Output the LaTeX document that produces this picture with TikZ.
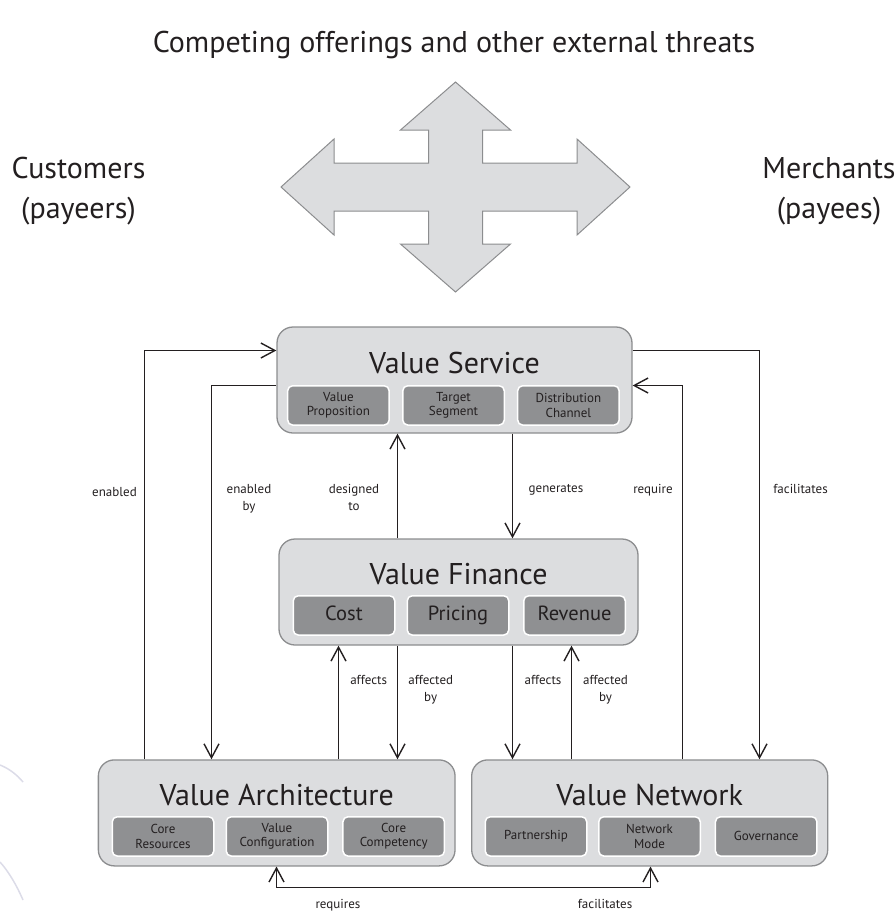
\documentclass[tikz,border=0pt]{standalone}
\usepackage{fontspec}
\setmainfont{PT Sans}
\usetikzlibrary{arrows.meta}
\definecolor{boxfill}{HTML}{DCDDDF}
\definecolor{boxline}{HTML}{8C8D8F}
\definecolor{subfill}{HTML}{8F9092}
\definecolor{ink}{HTML}{231F20}
\definecolor{faintc}{HTML}{DCDCE8}
\begin{document}
\begin{tikzpicture}[x=1pt,y=-1pt,
  bigbox/.style={draw=boxline, line width=1.3pt, fill=boxfill, rounded corners=16pt,
    minimum height=106pt, inner sep=0pt},
  boxtitle/.style={text=ink, font=\fontsize{30}{32}\selectfont, inner sep=0pt},
  subbox/.style={draw=white, line width=1.5pt, fill=subfill, rounded corners=5pt,
    minimum width=101.5pt, minimum height=39.3pt, inner sep=0pt, align=center,
    text=ink, font=\fontsize{13}{14.5}\selectfont},
  bigsub/.style={subbox, font=\fontsize{20.5}{22}\selectfont, text height=14.5pt, text depth=4.5pt},
  conn/.style={draw=ink, line width=1.6pt, -{Straight Barb[length=14pt,width=15pt,line width=1.4pt]}},
  conn2/.style={draw=ink, line width=1.6pt, {Straight Barb[length=14pt,width=15pt,line width=1.4pt]}-{Straight Barb[length=14pt,width=15pt,line width=1.4pt]}},
  lbl/.style={text=ink, font=\fontsize{13}{17}\selectfont, align=center, inner sep=0pt},
  toplbl/.style={text=ink, font=\fontsize{30}{40}\selectfont, align=center, inner sep=0pt},
  cross/.style={draw=boxline, line width=1pt, fill=boxfill, line join=miter},
  faint/.style={draw=faintc, line width=1.5pt}]
\useasboundingbox (0,0) rectangle (896,914);

% top texts
\node[toplbl] (threats) at (454,45) {Competing offerings and other external threats};
\node[toplbl] (cust) at (78.5,191) {Customers\\(payeers)};
\node[toplbl] (merch) at (829,191) {Merchants\\(payees)};

% four-way arrow
\draw[cross] (455.5,82) -- (510.5,130) -- (482.5,130) -- (482.5,163) -- (577,163) -- (577,139)
  -- (630,187) -- (577,235) -- (577,211) -- (482.5,211) -- (482.5,244) -- (510.5,244)
  -- (455.5,292) -- (400.5,244) -- (428.5,244) -- (428.5,211) -- (334,211) -- (334,235)
  -- (281,187) -- (334,139) -- (334,163) -- (428.5,163) -- (428.5,130) -- (400.5,130) -- cycle;

% faint arcs
\draw[faint] (0,765) .. controls (10,769) and (17,775) .. (23,782);
\draw[faint] (0,862) .. controls (9,872) and (17,886) .. (23,900);

% Value Service
\node[bigbox, minimum width=355pt] (vs) at (454.5,380) {};
\node[boxtitle] (vst) at (454.5,363) {Value Service};
\node[subbox] (vs1) at (338.4,405.4) {Value\\Proposition};
\node[subbox] (vs2) at (453.5,405.4) {Target\\Segment};
\node[subbox] (vs3) at (568.4,405.4) {Distribution\\Channel};

% Value Finance
\node[bigbox, minimum width=359pt] (vf) at (458.5,592) {};
\node[boxtitle] (vft) at (458.5,574) {Value Finance};
\node[bigsub] (vf1) at (344,615.4) {Cost};
\node[bigsub] (vf2) at (458,615.4) {Pricing};
\node[bigsub] (vf3) at (574.5,615.4) {Revenue};

% Value Architecture
\node[bigbox, minimum width=356.7pt] (va) at (276.7,812.9) {};
\node[boxtitle] (vat) at (276.7,795) {Value Architecture};
\node[subbox] (va1) at (163,836.4) {Core\\Resources};
\node[subbox] (va2) at (277,836.4) {Value\\Configuration};
\node[subbox] (va3) at (393.7,836.4) {Core\\Competency};

% Value Network
\node[bigbox, minimum width=356pt] (vn) at (649.7,812.9) {};
\node[boxtitle] (vnt) at (649.7,795) {Value Network};
\node[subbox] (vn1) at (536,836.4) {Partnership};
\node[subbox] (vn2) at (649.5,836.4) {Network\\Mode};
\node[subbox] (vn3) at (766.2,836.4) {Governance};

% connectors
\draw[conn] (va.north -| 144.5,0) |- (vs.west |- 0,350.5);
\draw[conn] (vs.west |- 0,385.5) -| (va.north -| 211.5,0);
\draw[conn] (vf.north -| 397.5,0) -- (vs.south -| 397.5,0);
\draw[conn] (vs.south -| 512.5,0) -- (vf.north -| 512.5,0);
\draw[conn] (vn.north -| 682.5,0) |- (vs.east |- 0,385.5);
\draw[conn] (vs.east |- 0,350.5) -| (vn.north -| 759.5,0);
\draw[conn] (va.north -| 338.5,0) -- (vf.south -| 338.5,0);
\draw[conn] (vf.south -| 397.5,0) -- (va.north -| 397.5,0);
\draw[conn] (vf.south -| 512.5,0) -- (vn.north -| 512.5,0);
\draw[conn] (vn.north -| 571.5,0) -- (vf.south -| 571.5,0);
\coordinate (bl) at (276.5,887.5);
\coordinate (br) at (650.5,887.5);
\draw[conn2] (va.south -| bl) -- (bl) -- (br) -- (vn.south -| br);

% labels
\node[lbl, anchor=east] (l1) at (137,492) {enabled};
\node[lbl, anchor=north] (l2) at (249,484) {enabled\\by};
\node[lbl, anchor=north] (l3) at (354,484) {designed\\to};
\node[lbl, anchor=north] (l4) at (556,484) {generates};
\node[lbl, anchor=north] (l5) at (653,484) {require};
\node[lbl, anchor=north] (l6) at (800.5,484) {facilitates};
\node[lbl, anchor=north] (l7) at (368.7,675) {affects};
\node[lbl, anchor=north] (l8) at (430.7,675) {affected\\by};
\node[lbl, anchor=north] (l9) at (543,675) {affects};
\node[lbl, anchor=north] (l10) at (605.5,675) {affected\\by};
\node[lbl, anchor=north] (l11) at (338,899) {requires};
\node[lbl, anchor=north] (l12) at (605,899) {facilitates};
\end{tikzpicture}
\end{document}
